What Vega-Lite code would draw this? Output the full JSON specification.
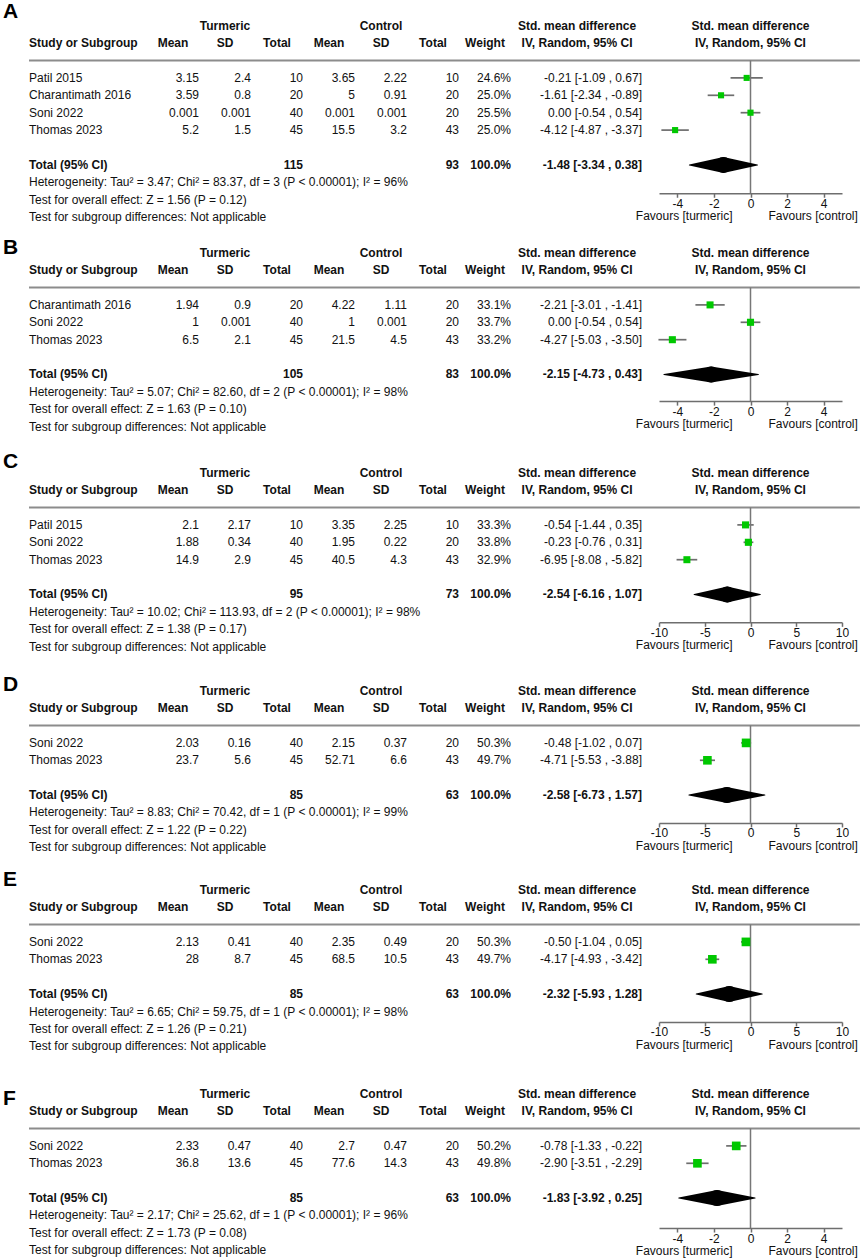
{
"$schema": "https://vega.github.io/schema/vega-lite/v6.json",
"padding": 0,
"background": "white",
"spacing": 0,
"bounds": "flush",
"config": {"view": {"stroke": null}, "font": "Liberation Sans", "text": {"font": "Liberation Sans", "fontSize": 12, "baseline": "middle", "color": "#111"}},
"datasets": {
"panels": [{"p": "A"}, {"p": "B"}, {"p": "C"}, {"p": "D"}, {"p": "E"}, {"p": "F"}],
"headers": [
{"col": "sdt", "r": 0, "text": "Turmeric"},
{"col": "sdc", "r": 0, "text": "Control"},
{"col": "mt", "r": 1, "text": "Mean"},
{"col": "sdt", "r": 1, "text": "SD"},
{"col": "nt", "r": 1, "text": "Total"},
{"col": "mc", "r": 1, "text": "Mean"},
{"col": "sdc", "r": 1, "text": "SD"},
{"col": "nc", "r": 1, "text": "Total"},
{"col": "w", "r": 1, "text": "Weight"},
{"col": "study", "r": 1, "text": "Study or Subgroup"},
{"col": "ci", "r": 0, "text": "Std. mean difference"},
{"col": "ci", "r": 1, "text": "IV, Random, 95% CI"},
{"col": "plot", "r": 0, "text": "Std. mean difference"},
{"col": "plot", "r": 1, "text": "IV, Random, 95% CI"}
],
"favours": [{"side": "turmeric", "text": "Favours [turmeric]"}, {"side": "control", "text": "Favours [control]"}],
"rows": [
{"p": "A", "kind": "study", "r": 3, "label": "Patil 2015", "mt": 3.15, "sdt": 2.4, "nt": 10, "mc": 3.65, "sdc": 2.22, "nc": 10, "w": "24.6%", "ci": "-0.21 [-1.09 , 0.67]", "est": -0.21, "lo": -1.09, "hi": 0.67, "wt": 24.6},
{"p": "A", "kind": "study", "r": 4, "label": "Charantimath 2016", "mt": 3.59, "sdt": 0.8, "nt": 20, "mc": 5, "sdc": 0.91, "nc": 20, "w": "25.0%", "ci": "-1.61 [-2.34 , -0.89]", "est": -1.61, "lo": -2.34, "hi": -0.89, "wt": 25.0},
{"p": "A", "kind": "study", "r": 5, "label": "Soni 2022", "mt": 0.001, "sdt": 0.001, "nt": 40, "mc": 0.001, "sdc": 0.001, "nc": 20, "w": "25.5%", "ci": "0.00 [-0.54 , 0.54]", "est": 0.0, "lo": -0.54, "hi": 0.54, "wt": 25.5},
{"p": "A", "kind": "study", "r": 6, "label": "Thomas 2023", "mt": 5.2, "sdt": 1.5, "nt": 45, "mc": 15.5, "sdc": 3.2, "nc": 43, "w": "25.0%", "ci": "-4.12 [-4.87 , -3.37]", "est": -4.12, "lo": -4.87, "hi": -3.37, "wt": 25.0},
{"p": "A", "kind": "total", "r": 8, "label": "Total (95% CI)", "nt": 115, "nc": 93, "w": "100.0%", "ci": "-1.48 [-3.34 , 0.38]", "est": -1.48, "lo": -3.34, "hi": 0.38},
{"p": "A", "kind": "note", "r": 9, "label": "Heterogeneity: Tau² = 3.47; Chi² = 83.37, df = 3 (P < 0.00001); I² = 96%"},
{"p": "A", "kind": "note", "r": 10, "label": "Test for overall effect: Z = 1.56 (P = 0.12)"},
{"p": "A", "kind": "note", "r": 11, "label": "Test for subgroup differences: Not applicable"},
{"p": "B", "kind": "study", "r": 3, "label": "Charantimath 2016", "mt": 1.94, "sdt": 0.9, "nt": 20, "mc": 4.22, "sdc": 1.11, "nc": 20, "w": "33.1%", "ci": "-2.21 [-3.01 , -1.41]", "est": -2.21, "lo": -3.01, "hi": -1.41, "wt": 33.1},
{"p": "B", "kind": "study", "r": 4, "label": "Soni 2022", "mt": 1, "sdt": 0.001, "nt": 40, "mc": 1, "sdc": 0.001, "nc": 20, "w": "33.7%", "ci": "0.00 [-0.54 , 0.54]", "est": 0.0, "lo": -0.54, "hi": 0.54, "wt": 33.7},
{"p": "B", "kind": "study", "r": 5, "label": "Thomas 2023", "mt": 6.5, "sdt": 2.1, "nt": 45, "mc": 21.5, "sdc": 4.5, "nc": 43, "w": "33.2%", "ci": "-4.27 [-5.03 , -3.50]", "est": -4.27, "lo": -5.03, "hi": -3.50, "wt": 33.2},
{"p": "B", "kind": "total", "r": 7, "label": "Total (95% CI)", "nt": 105, "nc": 83, "w": "100.0%", "ci": "-2.15 [-4.73 , 0.43]", "est": -2.15, "lo": -4.73, "hi": 0.43},
{"p": "B", "kind": "note", "r": 8, "label": "Heterogeneity: Tau² = 5.07; Chi² = 82.60, df = 2 (P < 0.00001); I² = 98%"},
{"p": "B", "kind": "note", "r": 9, "label": "Test for overall effect: Z = 1.63 (P = 0.10)"},
{"p": "B", "kind": "note", "r": 10, "label": "Test for subgroup differences: Not applicable"},
{"p": "C", "kind": "study", "r": 3, "label": "Patil 2015", "mt": 2.1, "sdt": 2.17, "nt": 10, "mc": 3.35, "sdc": 2.25, "nc": 10, "w": "33.3%", "ci": "-0.54 [-1.44 , 0.35]", "est": -0.54, "lo": -1.44, "hi": 0.35, "wt": 33.3},
{"p": "C", "kind": "study", "r": 4, "label": "Soni 2022", "mt": 1.88, "sdt": 0.34, "nt": 40, "mc": 1.95, "sdc": 0.22, "nc": 20, "w": "33.8%", "ci": "-0.23 [-0.76 , 0.31]", "est": -0.23, "lo": -0.76, "hi": 0.31, "wt": 33.8},
{"p": "C", "kind": "study", "r": 5, "label": "Thomas 2023", "mt": 14.9, "sdt": 2.9, "nt": 45, "mc": 40.5, "sdc": 4.3, "nc": 43, "w": "32.9%", "ci": "-6.95 [-8.08 , -5.82]", "est": -6.95, "lo": -8.08, "hi": -5.82, "wt": 32.9},
{"p": "C", "kind": "total", "r": 7, "label": "Total (95% CI)", "nt": 95, "nc": 73, "w": "100.0%", "ci": "-2.54 [-6.16 , 1.07]", "est": -2.54, "lo": -6.16, "hi": 1.07},
{"p": "C", "kind": "note", "r": 8, "label": "Heterogeneity: Tau² = 10.02; Chi² = 113.93, df = 2 (P < 0.00001); I² = 98%"},
{"p": "C", "kind": "note", "r": 9, "label": "Test for overall effect: Z = 1.38 (P = 0.17)"},
{"p": "C", "kind": "note", "r": 10, "label": "Test for subgroup differences: Not applicable"},
{"p": "D", "kind": "study", "r": 3, "label": "Soni 2022", "mt": 2.03, "sdt": 0.16, "nt": 40, "mc": 2.15, "sdc": 0.37, "nc": 20, "w": "50.3%", "ci": "-0.48 [-1.02 , 0.07]", "est": -0.48, "lo": -1.02, "hi": 0.07, "wt": 50.3},
{"p": "D", "kind": "study", "r": 4, "label": "Thomas 2023", "mt": 23.7, "sdt": 5.6, "nt": 45, "mc": 52.71, "sdc": 6.6, "nc": 43, "w": "49.7%", "ci": "-4.71 [-5.53 , -3.88]", "est": -4.71, "lo": -5.53, "hi": -3.88, "wt": 49.7},
{"p": "D", "kind": "total", "r": 6, "label": "Total (95% CI)", "nt": 85, "nc": 63, "w": "100.0%", "ci": "-2.58 [-6.73 , 1.57]", "est": -2.58, "lo": -6.73, "hi": 1.57},
{"p": "D", "kind": "note", "r": 7, "label": "Heterogeneity: Tau² = 8.83; Chi² = 70.42, df = 1 (P < 0.00001); I² = 99%"},
{"p": "D", "kind": "note", "r": 8, "label": "Test for overall effect: Z = 1.22 (P = 0.22)"},
{"p": "D", "kind": "note", "r": 9, "label": "Test for subgroup differences: Not applicable"},
{"p": "E", "kind": "study", "r": 3, "label": "Soni 2022", "mt": 2.13, "sdt": 0.41, "nt": 40, "mc": 2.35, "sdc": 0.49, "nc": 20, "w": "50.3%", "ci": "-0.50 [-1.04 , 0.05]", "est": -0.50, "lo": -1.04, "hi": 0.05, "wt": 50.3},
{"p": "E", "kind": "study", "r": 4, "label": "Thomas 2023", "mt": 28, "sdt": 8.7, "nt": 45, "mc": 68.5, "sdc": 10.5, "nc": 43, "w": "49.7%", "ci": "-4.17 [-4.93 , -3.42]", "est": -4.17, "lo": -4.93, "hi": -3.42, "wt": 49.7},
{"p": "E", "kind": "total", "r": 6, "label": "Total (95% CI)", "nt": 85, "nc": 63, "w": "100.0%", "ci": "-2.32 [-5.93 , 1.28]", "est": -2.32, "lo": -5.93, "hi": 1.28},
{"p": "E", "kind": "note", "r": 7, "label": "Heterogeneity: Tau² = 6.65; Chi² = 59.75, df = 1 (P < 0.00001); I² = 98%"},
{"p": "E", "kind": "note", "r": 8, "label": "Test for overall effect: Z = 1.26 (P = 0.21)"},
{"p": "E", "kind": "note", "r": 9, "label": "Test for subgroup differences: Not applicable"},
{"p": "F", "kind": "study", "r": 3, "label": "Soni 2022", "mt": 2.33, "sdt": 0.47, "nt": 40, "mc": 2.7, "sdc": 0.47, "nc": 20, "w": "50.2%", "ci": "-0.78 [-1.33 , -0.22]", "est": -0.78, "lo": -1.33, "hi": -0.22, "wt": 50.2},
{"p": "F", "kind": "study", "r": 4, "label": "Thomas 2023", "mt": 36.8, "sdt": 13.6, "nt": 45, "mc": 77.6, "sdc": 14.3, "nc": 43, "w": "49.8%", "ci": "-2.90 [-3.51 , -2.29]", "est": -2.90, "lo": -3.51, "hi": -2.29, "wt": 49.8},
{"p": "F", "kind": "total", "r": 6, "label": "Total (95% CI)", "nt": 85, "nc": 63, "w": "100.0%", "ci": "-1.83 [-3.92 , 0.25]", "est": -1.83, "lo": -3.92, "hi": 0.25},
{"p": "F", "kind": "note", "r": 7, "label": "Heterogeneity: Tau² = 2.17; Chi² = 25.62, df = 1 (P < 0.00001); I² = 96%"},
{"p": "F", "kind": "note", "r": 8, "label": "Test for overall effect: Z = 1.73 (P = 0.08)"},
{"p": "F", "kind": "note", "r": 9, "label": "Test for subgroup differences: Not applicable"}
]
},
"vconcat": [
{
"width": 865, "height": 227,
"data": {"name": "rows"},
"transform": [{"filter": "datum.p == 'A'"}],
"resolve": {"scale": {"x": "independent"}, "axis": {"x": "independent"}},
"layer": [
{"layer": [
{"data": {"name": "panels"}, "transform": [{"filter": "datum.p == 'A'"}], "mark": {"type": "text", "align": "left", "fontSize": 21, "fontWeight": "bold", "color": "#000"}, "encoding": {"x": {"datum": "study", "type": "nominal", "bandPosition": 0.23, "scale": {"type": "band", "domain": ["study","s1","s2","mt","sdt","nt","mc","sdc","nc","w","ci1","ci2","ci3","f1","f2","f3","f4"], "range": [-9, 875], "paddingInner": 0, "paddingOuter": 0}, "axis": null}, "y": {"datum": -0.8, "type": "quantitative", "scale": {"domain": [-1.477, 11.569], "reverse": true, "nice": false, "zero": false}, "axis": null}, "text": {"field": "p", "type": "nominal"}}},
{"data": {"name": "headers"}, "transform": [{"filter": "indexof(['mt','sdt','nt','mc','sdc','nc','w'], datum.col) >= 0"}], "mark": {"type": "text", "align": "center", "fontWeight": "bold"}, "encoding": {"x": {"field": "col", "type": "nominal", "bandPosition": 0.5, "axis": null}, "y": {"field": "r", "type": "quantitative", "axis": null}, "text": {"field": "text", "type": "nominal"}}},
{"data": {"name": "headers"}, "transform": [{"filter": "datum.col == 'ci'"}], "mark": {"type": "text", "align": "center", "fontWeight": "bold"}, "encoding": {"x": {"datum": "ci2", "type": "nominal", "bandPosition": 0.27, "axis": null}, "y": {"field": "r", "type": "quantitative", "axis": null}, "text": {"field": "text", "type": "nominal"}}},
{"data": {"name": "headers"}, "transform": [{"filter": "datum.col == 'study'"}], "mark": {"type": "text", "align": "left", "fontWeight": "bold"}, "encoding": {"x": {"datum": "study", "type": "nominal", "bandPosition": 0.731, "axis": null}, "y": {"field": "r", "type": "quantitative", "axis": null}, "text": {"field": "text", "type": "nominal"}}},
{"mark": {"type": "text", "align": "left", "fontWeight": {"expr": "datum.kind == 'total' ? 'bold' : 'normal'"}}, "encoding": {"x": {"datum": "study", "type": "nominal", "bandPosition": 0.731, "axis": null}, "y": {"field": "r", "type": "quantitative", "axis": null}, "text": {"field": "label", "type": "nominal"}}},
{"transform": [{"filter": "datum.kind != 'note'"}, {"fold": ["mt","sdt","nt","mc","sdc","nc","w"]}, {"filter": "datum.value != null"}], "mark": {"type": "text", "align": "right", "fontWeight": {"expr": "datum.kind == 'total' ? 'bold' : 'normal'"}}, "encoding": {"x": {"field": "key", "type": "nominal", "bandPosition": 1, "axis": null}, "y": {"field": "r", "type": "quantitative", "axis": null}, "text": {"field": "value", "type": "nominal"}}},
{"transform": [{"filter": "datum.kind != 'note'"}], "mark": {"type": "text", "align": "right", "fontWeight": {"expr": "datum.kind == 'total' ? 'bold' : 'normal'"}}, "encoding": {"x": {"datum": "ci3", "type": "nominal", "bandPosition": 0.52, "axis": null}, "y": {"field": "r", "type": "quantitative", "axis": null}, "text": {"field": "ci", "type": "nominal"}}},
{"data": {"name": "panels"}, "transform": [{"filter": "datum.p == 'A'"}], "mark": {"type": "rule", "color": "#8c8c8c", "strokeWidth": 2}, "encoding": {"x": {"datum": "study", "type": "nominal", "bandPosition": 0.731, "axis": null}, "x2": {"datum": "f4", "bandPosition": 0.71}, "y": {"datum": 2, "type": "quantitative", "axis": null}}}
]},
{"resolve": {"scale": {"size": "independent"}}, "layer": [
{"transform": [{"filter": "datum.kind == 'study'"}], "mark": {"type": "rule", "color": "#6e6e6e", "strokeWidth": 1.7}, "encoding": {"x": {"field": "lo", "type": "quantitative", "scale": {"domain": [-5, 5], "range": [659, 842], "nice": false, "zero": false}, "axis": {"values": [-4, -2, 0, 2, 4], "title": null, "offset": -33.74, "grid": false, "tickSize": 4, "labelPadding": 1, "domainColor": "#6e6e6e", "domainWidth": 1.5, "tickColor": "#6e6e6e", "tickWidth": 1.5, "labelFont": "Liberation Sans", "labelFontSize": 12, "labelColor": "#111", "labelExpr": "'' + datum.value", "labelOverlap": false, "labelFlush": false}}, "x2": {"field": "hi"}, "y": {"field": "r", "type": "quantitative", "scale": {"domain": [-1.477, 11.569], "reverse": true, "nice": false, "zero": false}, "axis": null}}},
{"data": {"name": "panels"}, "transform": [{"filter": "datum.p == 'A'"}], "mark": {"type": "rule", "color": "#777", "strokeWidth": 1.5}, "encoding": {"x": {"datum": 0, "type": "quantitative"}, "y": {"datum": 2, "type": "quantitative", "axis": null}, "y2": {"datum": 9.63}}},
{"transform": [{"filter": "datum.kind == 'study'"}], "mark": {"type": "point", "shape": "square", "filled": true, "color": "#00c800", "opacity": 1}, "encoding": {"x": {"field": "est", "type": "quantitative"}, "y": {"field": "r", "type": "quantitative", "axis": null}, "size": {"field": "wt", "type": "quantitative", "scale": {"domain": [0, 100], "range": [0, 150]}, "legend": null}}},
{"transform": [{"filter": "datum.kind == 'total'"}, {"fold": ["lo", "est"]}], "mark": {"type": "trail", "color": "#000"}, "encoding": {"x": {"field": "value", "type": "quantitative"}, "y": {"field": "r", "type": "quantitative", "axis": null}, "size": {"field": "key", "type": "ordinal", "scale": {"type": "point", "domain": ["lo", "est"], "range": [0, 16], "padding": 0}, "legend": null}, "order": {"field": "value", "type": "quantitative"}}},
{"transform": [{"filter": "datum.kind == 'total'"}, {"fold": ["hi", "est"]}], "mark": {"type": "trail", "color": "#000"}, "encoding": {"x": {"field": "value", "type": "quantitative"}, "y": {"field": "r", "type": "quantitative", "axis": null}, "size": {"field": "key", "type": "ordinal", "scale": {"type": "point", "domain": ["hi", "est"], "range": [0, 16], "padding": 0}, "legend": null}, "order": {"field": "value", "type": "quantitative"}}},
{"data": {"name": "headers"}, "transform": [{"filter": "datum.col == 'plot'"}], "mark": {"type": "text", "align": "center", "fontWeight": "bold"}, "encoding": {"x": {"datum": 0, "type": "quantitative"}, "y": {"field": "r", "type": "quantitative", "axis": null}, "text": {"field": "text", "type": "nominal"}}},
{"data": {"name": "favours"}, "mark": {"type": "text", "align": {"expr": "datum.side == 'turmeric' ? 'right' : 'left'"}, "dx": {"expr": "datum.side == 'turmeric' ? -18 : 18"}}, "encoding": {"x": {"datum": 0, "type": "quantitative"}, "y": {"datum": 10.95, "type": "quantitative", "axis": null}, "text": {"field": "text", "type": "nominal"}}}
]}
]
},
{
"width": 865, "height": 220,
"data": {"name": "rows"},
"transform": [{"filter": "datum.p == 'B'"}],
"resolve": {"scale": {"x": "independent"}, "axis": {"x": "independent"}},
"layer": [
{"layer": [
{"data": {"name": "panels"}, "transform": [{"filter": "datum.p == 'B'"}], "mark": {"type": "text", "align": "left", "fontSize": 21, "fontWeight": "bold", "color": "#000"}, "encoding": {"x": {"datum": "study", "type": "nominal", "bandPosition": 0.23, "scale": {"type": "band", "domain": ["study","s1","s2","mt","sdt","nt","mc","sdc","nc","w","ci1","ci2","ci3","f1","f2","f3","f4"], "range": [-9, 875], "paddingInner": 0, "paddingOuter": 0}, "axis": null}, "y": {"datum": -0.27, "type": "quantitative", "scale": {"domain": [-1.477, 11.167], "reverse": true, "nice": false, "zero": false}, "axis": null}, "text": {"field": "p", "type": "nominal"}}},
{"data": {"name": "headers"}, "transform": [{"filter": "indexof(['mt','sdt','nt','mc','sdc','nc','w'], datum.col) >= 0"}], "mark": {"type": "text", "align": "center", "fontWeight": "bold"}, "encoding": {"x": {"field": "col", "type": "nominal", "bandPosition": 0.5, "axis": null}, "y": {"field": "r", "type": "quantitative", "axis": null}, "text": {"field": "text", "type": "nominal"}}},
{"data": {"name": "headers"}, "transform": [{"filter": "datum.col == 'ci'"}], "mark": {"type": "text", "align": "center", "fontWeight": "bold"}, "encoding": {"x": {"datum": "ci2", "type": "nominal", "bandPosition": 0.27, "axis": null}, "y": {"field": "r", "type": "quantitative", "axis": null}, "text": {"field": "text", "type": "nominal"}}},
{"data": {"name": "headers"}, "transform": [{"filter": "datum.col == 'study'"}], "mark": {"type": "text", "align": "left", "fontWeight": "bold"}, "encoding": {"x": {"datum": "study", "type": "nominal", "bandPosition": 0.731, "axis": null}, "y": {"field": "r", "type": "quantitative", "axis": null}, "text": {"field": "text", "type": "nominal"}}},
{"mark": {"type": "text", "align": "left", "fontWeight": {"expr": "datum.kind == 'total' ? 'bold' : 'normal'"}}, "encoding": {"x": {"datum": "study", "type": "nominal", "bandPosition": 0.731, "axis": null}, "y": {"field": "r", "type": "quantitative", "axis": null}, "text": {"field": "label", "type": "nominal"}}},
{"transform": [{"filter": "datum.kind != 'note'"}, {"fold": ["mt","sdt","nt","mc","sdc","nc","w"]}, {"filter": "datum.value != null"}], "mark": {"type": "text", "align": "right", "fontWeight": {"expr": "datum.kind == 'total' ? 'bold' : 'normal'"}}, "encoding": {"x": {"field": "key", "type": "nominal", "bandPosition": 1, "axis": null}, "y": {"field": "r", "type": "quantitative", "axis": null}, "text": {"field": "value", "type": "nominal"}}},
{"transform": [{"filter": "datum.kind != 'note'"}], "mark": {"type": "text", "align": "right", "fontWeight": {"expr": "datum.kind == 'total' ? 'bold' : 'normal'"}}, "encoding": {"x": {"datum": "ci3", "type": "nominal", "bandPosition": 0.52, "axis": null}, "y": {"field": "r", "type": "quantitative", "axis": null}, "text": {"field": "ci", "type": "nominal"}}},
{"data": {"name": "panels"}, "transform": [{"filter": "datum.p == 'B'"}], "mark": {"type": "rule", "color": "#8c8c8c", "strokeWidth": 2}, "encoding": {"x": {"datum": "study", "type": "nominal", "bandPosition": 0.731, "axis": null}, "x2": {"datum": "f4", "bandPosition": 0.71}, "y": {"datum": 2, "type": "quantitative", "axis": null}}}
]},
{"resolve": {"scale": {"size": "independent"}}, "layer": [
{"transform": [{"filter": "datum.kind == 'study'"}], "mark": {"type": "rule", "color": "#6e6e6e", "strokeWidth": 1.7}, "encoding": {"x": {"field": "lo", "type": "quantitative", "scale": {"domain": [-5, 5], "range": [659, 842], "nice": false, "zero": false}, "axis": {"values": [-4, -2, 0, 2, 4], "title": null, "offset": -45.88, "grid": false, "tickSize": 4, "labelPadding": 1, "domainColor": "#6e6e6e", "domainWidth": 1.5, "tickColor": "#6e6e6e", "tickWidth": 1.5, "labelFont": "Liberation Sans", "labelFontSize": 12, "labelColor": "#111", "labelExpr": "'' + datum.value", "labelOverlap": false, "labelFlush": false}}, "x2": {"field": "hi"}, "y": {"field": "r", "type": "quantitative", "scale": {"domain": [-1.477, 11.167], "reverse": true, "nice": false, "zero": false}, "axis": null}}},
{"data": {"name": "panels"}, "transform": [{"filter": "datum.p == 'B'"}], "mark": {"type": "rule", "color": "#777", "strokeWidth": 1.5}, "encoding": {"x": {"datum": 0, "type": "quantitative"}, "y": {"datum": 2, "type": "quantitative", "axis": null}, "y2": {"datum": 8.53}}},
{"transform": [{"filter": "datum.kind == 'study'"}], "mark": {"type": "point", "shape": "square", "filled": true, "color": "#00c800", "opacity": 1}, "encoding": {"x": {"field": "est", "type": "quantitative"}, "y": {"field": "r", "type": "quantitative", "axis": null}, "size": {"field": "wt", "type": "quantitative", "scale": {"domain": [0, 100], "range": [0, 150]}, "legend": null}}},
{"transform": [{"filter": "datum.kind == 'total'"}, {"fold": ["lo", "est"]}], "mark": {"type": "trail", "color": "#000"}, "encoding": {"x": {"field": "value", "type": "quantitative"}, "y": {"field": "r", "type": "quantitative", "axis": null}, "size": {"field": "key", "type": "ordinal", "scale": {"type": "point", "domain": ["lo", "est"], "range": [0, 16], "padding": 0}, "legend": null}, "order": {"field": "value", "type": "quantitative"}}},
{"transform": [{"filter": "datum.kind == 'total'"}, {"fold": ["hi", "est"]}], "mark": {"type": "trail", "color": "#000"}, "encoding": {"x": {"field": "value", "type": "quantitative"}, "y": {"field": "r", "type": "quantitative", "axis": null}, "size": {"field": "key", "type": "ordinal", "scale": {"type": "point", "domain": ["hi", "est"], "range": [0, 16], "padding": 0}, "legend": null}, "order": {"field": "value", "type": "quantitative"}}},
{"data": {"name": "headers"}, "transform": [{"filter": "datum.col == 'plot'"}], "mark": {"type": "text", "align": "center", "fontWeight": "bold"}, "encoding": {"x": {"datum": 0, "type": "quantitative"}, "y": {"field": "r", "type": "quantitative", "axis": null}, "text": {"field": "text", "type": "nominal"}}},
{"data": {"name": "favours"}, "mark": {"type": "text", "align": {"expr": "datum.side == 'turmeric' ? 'right' : 'left'"}, "dx": {"expr": "datum.side == 'turmeric' ? -18 : 18"}}, "encoding": {"x": {"datum": 0, "type": "quantitative"}, "y": {"datum": 9.85, "type": "quantitative", "axis": null}, "text": {"field": "text", "type": "nominal"}}}
]}
]
},
{
"width": 865, "height": 218,
"data": {"name": "rows"},
"transform": [{"filter": "datum.p == 'C'"}],
"resolve": {"scale": {"x": "independent"}, "axis": {"x": "independent"}},
"layer": [
{"layer": [
{"data": {"name": "panels"}, "transform": [{"filter": "datum.p == 'C'"}], "mark": {"type": "text", "align": "left", "fontSize": 21, "fontWeight": "bold", "color": "#000"}, "encoding": {"x": {"datum": "study", "type": "nominal", "bandPosition": 0.23, "scale": {"type": "band", "domain": ["study","s1","s2","mt","sdt","nt","mc","sdc","nc","w","ci1","ci2","ci3","f1","f2","f3","f4"], "range": [-9, 875], "paddingInner": 0, "paddingOuter": 0}, "axis": null}, "y": {"datum": -0.63, "type": "quantitative", "scale": {"domain": [-1.477, 11.052], "reverse": true, "nice": false, "zero": false}, "axis": null}, "text": {"field": "p", "type": "nominal"}}},
{"data": {"name": "headers"}, "transform": [{"filter": "indexof(['mt','sdt','nt','mc','sdc','nc','w'], datum.col) >= 0"}], "mark": {"type": "text", "align": "center", "fontWeight": "bold"}, "encoding": {"x": {"field": "col", "type": "nominal", "bandPosition": 0.5, "axis": null}, "y": {"field": "r", "type": "quantitative", "axis": null}, "text": {"field": "text", "type": "nominal"}}},
{"data": {"name": "headers"}, "transform": [{"filter": "datum.col == 'ci'"}], "mark": {"type": "text", "align": "center", "fontWeight": "bold"}, "encoding": {"x": {"datum": "ci2", "type": "nominal", "bandPosition": 0.27, "axis": null}, "y": {"field": "r", "type": "quantitative", "axis": null}, "text": {"field": "text", "type": "nominal"}}},
{"data": {"name": "headers"}, "transform": [{"filter": "datum.col == 'study'"}], "mark": {"type": "text", "align": "left", "fontWeight": "bold"}, "encoding": {"x": {"datum": "study", "type": "nominal", "bandPosition": 0.731, "axis": null}, "y": {"field": "r", "type": "quantitative", "axis": null}, "text": {"field": "text", "type": "nominal"}}},
{"mark": {"type": "text", "align": "left", "fontWeight": {"expr": "datum.kind == 'total' ? 'bold' : 'normal'"}}, "encoding": {"x": {"datum": "study", "type": "nominal", "bandPosition": 0.731, "axis": null}, "y": {"field": "r", "type": "quantitative", "axis": null}, "text": {"field": "label", "type": "nominal"}}},
{"transform": [{"filter": "datum.kind != 'note'"}, {"fold": ["mt","sdt","nt","mc","sdc","nc","w"]}, {"filter": "datum.value != null"}], "mark": {"type": "text", "align": "right", "fontWeight": {"expr": "datum.kind == 'total' ? 'bold' : 'normal'"}}, "encoding": {"x": {"field": "key", "type": "nominal", "bandPosition": 1, "axis": null}, "y": {"field": "r", "type": "quantitative", "axis": null}, "text": {"field": "value", "type": "nominal"}}},
{"transform": [{"filter": "datum.kind != 'note'"}], "mark": {"type": "text", "align": "right", "fontWeight": {"expr": "datum.kind == 'total' ? 'bold' : 'normal'"}}, "encoding": {"x": {"datum": "ci3", "type": "nominal", "bandPosition": 0.52, "axis": null}, "y": {"field": "r", "type": "quantitative", "axis": null}, "text": {"field": "ci", "type": "nominal"}}},
{"data": {"name": "panels"}, "transform": [{"filter": "datum.p == 'C'"}], "mark": {"type": "rule", "color": "#8c8c8c", "strokeWidth": 2}, "encoding": {"x": {"datum": "study", "type": "nominal", "bandPosition": 0.731, "axis": null}, "x2": {"datum": "f4", "bandPosition": 0.71}, "y": {"datum": 2, "type": "quantitative", "axis": null}}}
]},
{"resolve": {"scale": {"size": "independent"}}, "layer": [
{"transform": [{"filter": "datum.kind == 'study'"}], "mark": {"type": "rule", "color": "#6e6e6e", "strokeWidth": 1.7}, "encoding": {"x": {"field": "lo", "type": "quantitative", "scale": {"domain": [-10, 10], "range": [659, 842], "nice": false, "zero": false}, "axis": {"values": [-10, -5, 0, 5, 10], "title": null, "offset": -42.66, "grid": false, "tickSize": 4, "labelPadding": 1, "domainColor": "#6e6e6e", "domainWidth": 1.5, "tickColor": "#6e6e6e", "tickWidth": 1.5, "labelFont": "Liberation Sans", "labelFontSize": 12, "labelColor": "#111", "labelExpr": "'' + datum.value", "labelOverlap": false, "labelFlush": false}}, "x2": {"field": "hi"}, "y": {"field": "r", "type": "quantitative", "scale": {"domain": [-1.477, 11.052], "reverse": true, "nice": false, "zero": false}, "axis": null}}},
{"data": {"name": "panels"}, "transform": [{"filter": "datum.p == 'C'"}], "mark": {"type": "rule", "color": "#777", "strokeWidth": 1.5}, "encoding": {"x": {"datum": 0, "type": "quantitative"}, "y": {"datum": 2, "type": "quantitative", "axis": null}, "y2": {"datum": 8.6}}},
{"transform": [{"filter": "datum.kind == 'study'"}], "mark": {"type": "point", "shape": "square", "filled": true, "color": "#00c800", "opacity": 1}, "encoding": {"x": {"field": "est", "type": "quantitative"}, "y": {"field": "r", "type": "quantitative", "axis": null}, "size": {"field": "wt", "type": "quantitative", "scale": {"domain": [0, 100], "range": [0, 150]}, "legend": null}}},
{"transform": [{"filter": "datum.kind == 'total'"}, {"fold": ["lo", "est"]}], "mark": {"type": "trail", "color": "#000"}, "encoding": {"x": {"field": "value", "type": "quantitative"}, "y": {"field": "r", "type": "quantitative", "axis": null}, "size": {"field": "key", "type": "ordinal", "scale": {"type": "point", "domain": ["lo", "est"], "range": [0, 16], "padding": 0}, "legend": null}, "order": {"field": "value", "type": "quantitative"}}},
{"transform": [{"filter": "datum.kind == 'total'"}, {"fold": ["hi", "est"]}], "mark": {"type": "trail", "color": "#000"}, "encoding": {"x": {"field": "value", "type": "quantitative"}, "y": {"field": "r", "type": "quantitative", "axis": null}, "size": {"field": "key", "type": "ordinal", "scale": {"type": "point", "domain": ["hi", "est"], "range": [0, 16], "padding": 0}, "legend": null}, "order": {"field": "value", "type": "quantitative"}}},
{"data": {"name": "headers"}, "transform": [{"filter": "datum.col == 'plot'"}], "mark": {"type": "text", "align": "center", "fontWeight": "bold"}, "encoding": {"x": {"datum": 0, "type": "quantitative"}, "y": {"field": "r", "type": "quantitative", "axis": null}, "text": {"field": "text", "type": "nominal"}}},
{"data": {"name": "favours"}, "mark": {"type": "text", "align": {"expr": "datum.side == 'turmeric' ? 'right' : 'left'"}, "dx": {"expr": "datum.side == 'turmeric' ? -18 : 18"}}, "encoding": {"x": {"datum": 0, "type": "quantitative"}, "y": {"datum": 9.92, "type": "quantitative", "axis": null}, "text": {"field": "text", "type": "nominal"}}}
]}
]
},
{
"width": 865, "height": 199,
"data": {"name": "rows"},
"transform": [{"filter": "datum.p == 'D'"}],
"resolve": {"scale": {"x": "independent"}, "axis": {"x": "independent"}},
"layer": [
{"layer": [
{"data": {"name": "panels"}, "transform": [{"filter": "datum.p == 'D'"}], "mark": {"type": "text", "align": "left", "fontSize": 21, "fontWeight": "bold", "color": "#000"}, "encoding": {"x": {"datum": "study", "type": "nominal", "bandPosition": 0.23, "scale": {"type": "band", "domain": ["study","s1","s2","mt","sdt","nt","mc","sdc","nc","w","ci1","ci2","ci3","f1","f2","f3","f4"], "range": [-9, 875], "paddingInner": 0, "paddingOuter": 0}, "axis": null}, "y": {"datum": -0.3, "type": "quantitative", "scale": {"domain": [-1.477, 9.96], "reverse": true, "nice": false, "zero": false}, "axis": null}, "text": {"field": "p", "type": "nominal"}}},
{"data": {"name": "headers"}, "transform": [{"filter": "indexof(['mt','sdt','nt','mc','sdc','nc','w'], datum.col) >= 0"}], "mark": {"type": "text", "align": "center", "fontWeight": "bold"}, "encoding": {"x": {"field": "col", "type": "nominal", "bandPosition": 0.5, "axis": null}, "y": {"field": "r", "type": "quantitative", "axis": null}, "text": {"field": "text", "type": "nominal"}}},
{"data": {"name": "headers"}, "transform": [{"filter": "datum.col == 'ci'"}], "mark": {"type": "text", "align": "center", "fontWeight": "bold"}, "encoding": {"x": {"datum": "ci2", "type": "nominal", "bandPosition": 0.27, "axis": null}, "y": {"field": "r", "type": "quantitative", "axis": null}, "text": {"field": "text", "type": "nominal"}}},
{"data": {"name": "headers"}, "transform": [{"filter": "datum.col == 'study'"}], "mark": {"type": "text", "align": "left", "fontWeight": "bold"}, "encoding": {"x": {"datum": "study", "type": "nominal", "bandPosition": 0.731, "axis": null}, "y": {"field": "r", "type": "quantitative", "axis": null}, "text": {"field": "text", "type": "nominal"}}},
{"mark": {"type": "text", "align": "left", "fontWeight": {"expr": "datum.kind == 'total' ? 'bold' : 'normal'"}}, "encoding": {"x": {"datum": "study", "type": "nominal", "bandPosition": 0.731, "axis": null}, "y": {"field": "r", "type": "quantitative", "axis": null}, "text": {"field": "label", "type": "nominal"}}},
{"transform": [{"filter": "datum.kind != 'note'"}, {"fold": ["mt","sdt","nt","mc","sdc","nc","w"]}, {"filter": "datum.value != null"}], "mark": {"type": "text", "align": "right", "fontWeight": {"expr": "datum.kind == 'total' ? 'bold' : 'normal'"}}, "encoding": {"x": {"field": "key", "type": "nominal", "bandPosition": 1, "axis": null}, "y": {"field": "r", "type": "quantitative", "axis": null}, "text": {"field": "value", "type": "nominal"}}},
{"transform": [{"filter": "datum.kind != 'note'"}], "mark": {"type": "text", "align": "right", "fontWeight": {"expr": "datum.kind == 'total' ? 'bold' : 'normal'"}}, "encoding": {"x": {"datum": "ci3", "type": "nominal", "bandPosition": 0.52, "axis": null}, "y": {"field": "r", "type": "quantitative", "axis": null}, "text": {"field": "ci", "type": "nominal"}}},
{"data": {"name": "panels"}, "transform": [{"filter": "datum.p == 'D'"}], "mark": {"type": "rule", "color": "#8c8c8c", "strokeWidth": 2}, "encoding": {"x": {"datum": "study", "type": "nominal", "bandPosition": 0.731, "axis": null}, "x2": {"datum": "f4", "bandPosition": 0.71}, "y": {"datum": 2, "type": "quantitative", "axis": null}}}
]},
{"resolve": {"scale": {"size": "independent"}}, "layer": [
{"transform": [{"filter": "datum.kind == 'study'"}], "mark": {"type": "rule", "color": "#6e6e6e", "strokeWidth": 1.7}, "encoding": {"x": {"field": "lo", "type": "quantitative", "scale": {"domain": [-10, 10], "range": [659, 842], "nice": false, "zero": false}, "axis": {"values": [-10, -5, 0, 5, 10], "title": null, "offset": -41.06, "grid": false, "tickSize": 4, "labelPadding": 1, "domainColor": "#6e6e6e", "domainWidth": 1.5, "tickColor": "#6e6e6e", "tickWidth": 1.5, "labelFont": "Liberation Sans", "labelFontSize": 12, "labelColor": "#111", "labelExpr": "'' + datum.value", "labelOverlap": false, "labelFlush": false}}, "x2": {"field": "hi"}, "y": {"field": "r", "type": "quantitative", "scale": {"domain": [-1.477, 9.96], "reverse": true, "nice": false, "zero": false}, "axis": null}}},
{"data": {"name": "panels"}, "transform": [{"filter": "datum.p == 'D'"}], "mark": {"type": "rule", "color": "#777", "strokeWidth": 1.5}, "encoding": {"x": {"datum": 0, "type": "quantitative"}, "y": {"datum": 2, "type": "quantitative", "axis": null}, "y2": {"datum": 7.6}}},
{"transform": [{"filter": "datum.kind == 'study'"}], "mark": {"type": "point", "shape": "square", "filled": true, "color": "#00c800", "opacity": 1}, "encoding": {"x": {"field": "est", "type": "quantitative"}, "y": {"field": "r", "type": "quantitative", "axis": null}, "size": {"field": "wt", "type": "quantitative", "scale": {"domain": [0, 100], "range": [0, 150]}, "legend": null}}},
{"transform": [{"filter": "datum.kind == 'total'"}, {"fold": ["lo", "est"]}], "mark": {"type": "trail", "color": "#000"}, "encoding": {"x": {"field": "value", "type": "quantitative"}, "y": {"field": "r", "type": "quantitative", "axis": null}, "size": {"field": "key", "type": "ordinal", "scale": {"type": "point", "domain": ["lo", "est"], "range": [0, 16], "padding": 0}, "legend": null}, "order": {"field": "value", "type": "quantitative"}}},
{"transform": [{"filter": "datum.kind == 'total'"}, {"fold": ["hi", "est"]}], "mark": {"type": "trail", "color": "#000"}, "encoding": {"x": {"field": "value", "type": "quantitative"}, "y": {"field": "r", "type": "quantitative", "axis": null}, "size": {"field": "key", "type": "ordinal", "scale": {"type": "point", "domain": ["hi", "est"], "range": [0, 16], "padding": 0}, "legend": null}, "order": {"field": "value", "type": "quantitative"}}},
{"data": {"name": "headers"}, "transform": [{"filter": "datum.col == 'plot'"}], "mark": {"type": "text", "align": "center", "fontWeight": "bold"}, "encoding": {"x": {"datum": 0, "type": "quantitative"}, "y": {"field": "r", "type": "quantitative", "axis": null}, "text": {"field": "text", "type": "nominal"}}},
{"data": {"name": "favours"}, "mark": {"type": "text", "align": {"expr": "datum.side == 'turmeric' ? 'right' : 'left'"}, "dx": {"expr": "datum.side == 'turmeric' ? -18 : 18"}}, "encoding": {"x": {"datum": 0, "type": "quantitative"}, "y": {"datum": 8.92, "type": "quantitative", "axis": null}, "text": {"field": "text", "type": "nominal"}}}
]}
]
},
{
"width": 865, "height": 204,
"data": {"name": "rows"},
"transform": [{"filter": "datum.p == 'E'"}],
"resolve": {"scale": {"x": "independent"}, "axis": {"x": "independent"}},
"layer": [
{"layer": [
{"data": {"name": "panels"}, "transform": [{"filter": "datum.p == 'E'"}], "mark": {"type": "text", "align": "left", "fontSize": 21, "fontWeight": "bold", "color": "#000"}, "encoding": {"x": {"datum": "study", "type": "nominal", "bandPosition": 0.23, "scale": {"type": "band", "domain": ["study","s1","s2","mt","sdt","nt","mc","sdc","nc","w","ci1","ci2","ci3","f1","f2","f3","f4"], "range": [-9, 875], "paddingInner": 0, "paddingOuter": 0}, "axis": null}, "y": {"datum": -0.56, "type": "quantitative", "scale": {"domain": [-1.477, 10.247], "reverse": true, "nice": false, "zero": false}, "axis": null}, "text": {"field": "p", "type": "nominal"}}},
{"data": {"name": "headers"}, "transform": [{"filter": "indexof(['mt','sdt','nt','mc','sdc','nc','w'], datum.col) >= 0"}], "mark": {"type": "text", "align": "center", "fontWeight": "bold"}, "encoding": {"x": {"field": "col", "type": "nominal", "bandPosition": 0.5, "axis": null}, "y": {"field": "r", "type": "quantitative", "axis": null}, "text": {"field": "text", "type": "nominal"}}},
{"data": {"name": "headers"}, "transform": [{"filter": "datum.col == 'ci'"}], "mark": {"type": "text", "align": "center", "fontWeight": "bold"}, "encoding": {"x": {"datum": "ci2", "type": "nominal", "bandPosition": 0.27, "axis": null}, "y": {"field": "r", "type": "quantitative", "axis": null}, "text": {"field": "text", "type": "nominal"}}},
{"data": {"name": "headers"}, "transform": [{"filter": "datum.col == 'study'"}], "mark": {"type": "text", "align": "left", "fontWeight": "bold"}, "encoding": {"x": {"datum": "study", "type": "nominal", "bandPosition": 0.731, "axis": null}, "y": {"field": "r", "type": "quantitative", "axis": null}, "text": {"field": "text", "type": "nominal"}}},
{"mark": {"type": "text", "align": "left", "fontWeight": {"expr": "datum.kind == 'total' ? 'bold' : 'normal'"}}, "encoding": {"x": {"datum": "study", "type": "nominal", "bandPosition": 0.731, "axis": null}, "y": {"field": "r", "type": "quantitative", "axis": null}, "text": {"field": "label", "type": "nominal"}}},
{"transform": [{"filter": "datum.kind != 'note'"}, {"fold": ["mt","sdt","nt","mc","sdc","nc","w"]}, {"filter": "datum.value != null"}], "mark": {"type": "text", "align": "right", "fontWeight": {"expr": "datum.kind == 'total' ? 'bold' : 'normal'"}}, "encoding": {"x": {"field": "key", "type": "nominal", "bandPosition": 1, "axis": null}, "y": {"field": "r", "type": "quantitative", "axis": null}, "text": {"field": "value", "type": "nominal"}}},
{"transform": [{"filter": "datum.kind != 'note'"}], "mark": {"type": "text", "align": "right", "fontWeight": {"expr": "datum.kind == 'total' ? 'bold' : 'normal'"}}, "encoding": {"x": {"datum": "ci3", "type": "nominal", "bandPosition": 0.52, "axis": null}, "y": {"field": "r", "type": "quantitative", "axis": null}, "text": {"field": "ci", "type": "nominal"}}},
{"data": {"name": "panels"}, "transform": [{"filter": "datum.p == 'E'"}], "mark": {"type": "rule", "color": "#8c8c8c", "strokeWidth": 2}, "encoding": {"x": {"datum": "study", "type": "nominal", "bandPosition": 0.731, "axis": null}, "x2": {"datum": "f4", "bandPosition": 0.71}, "y": {"datum": 2, "type": "quantitative", "axis": null}}}
]},
{"resolve": {"scale": {"size": "independent"}}, "layer": [
{"transform": [{"filter": "datum.kind == 'study'"}], "mark": {"type": "rule", "color": "#6e6e6e", "strokeWidth": 1.7}, "encoding": {"x": {"field": "lo", "type": "quantitative", "scale": {"domain": [-10, 10], "range": [659, 842], "nice": false, "zero": false}, "axis": {"values": [-10, -5, 0, 5, 10], "title": null, "offset": -46.06, "grid": false, "tickSize": 4, "labelPadding": 1, "domainColor": "#6e6e6e", "domainWidth": 1.5, "tickColor": "#6e6e6e", "tickWidth": 1.5, "labelFont": "Liberation Sans", "labelFontSize": 12, "labelColor": "#111", "labelExpr": "'' + datum.value", "labelOverlap": false, "labelFlush": false}}, "x2": {"field": "hi"}, "y": {"field": "r", "type": "quantitative", "scale": {"domain": [-1.477, 10.247], "reverse": true, "nice": false, "zero": false}, "axis": null}}},
{"data": {"name": "panels"}, "transform": [{"filter": "datum.p == 'E'"}], "mark": {"type": "rule", "color": "#777", "strokeWidth": 1.5}, "encoding": {"x": {"datum": 0, "type": "quantitative"}, "y": {"datum": 2, "type": "quantitative", "axis": null}, "y2": {"datum": 7.6}}},
{"transform": [{"filter": "datum.kind == 'study'"}], "mark": {"type": "point", "shape": "square", "filled": true, "color": "#00c800", "opacity": 1}, "encoding": {"x": {"field": "est", "type": "quantitative"}, "y": {"field": "r", "type": "quantitative", "axis": null}, "size": {"field": "wt", "type": "quantitative", "scale": {"domain": [0, 100], "range": [0, 150]}, "legend": null}}},
{"transform": [{"filter": "datum.kind == 'total'"}, {"fold": ["lo", "est"]}], "mark": {"type": "trail", "color": "#000"}, "encoding": {"x": {"field": "value", "type": "quantitative"}, "y": {"field": "r", "type": "quantitative", "axis": null}, "size": {"field": "key", "type": "ordinal", "scale": {"type": "point", "domain": ["lo", "est"], "range": [0, 16], "padding": 0}, "legend": null}, "order": {"field": "value", "type": "quantitative"}}},
{"transform": [{"filter": "datum.kind == 'total'"}, {"fold": ["hi", "est"]}], "mark": {"type": "trail", "color": "#000"}, "encoding": {"x": {"field": "value", "type": "quantitative"}, "y": {"field": "r", "type": "quantitative", "axis": null}, "size": {"field": "key", "type": "ordinal", "scale": {"type": "point", "domain": ["hi", "est"], "range": [0, 16], "padding": 0}, "legend": null}, "order": {"field": "value", "type": "quantitative"}}},
{"data": {"name": "headers"}, "transform": [{"filter": "datum.col == 'plot'"}], "mark": {"type": "text", "align": "center", "fontWeight": "bold"}, "encoding": {"x": {"datum": 0, "type": "quantitative"}, "y": {"field": "r", "type": "quantitative", "axis": null}, "text": {"field": "text", "type": "nominal"}}},
{"data": {"name": "favours"}, "mark": {"type": "text", "align": {"expr": "datum.side == 'turmeric' ? 'right' : 'left'"}, "dx": {"expr": "datum.side == 'turmeric' ? -18 : 18"}}, "encoding": {"x": {"datum": 0, "type": "quantitative"}, "y": {"datum": 8.92, "type": "quantitative", "axis": null}, "text": {"field": "text", "type": "nominal"}}}
]}
]
},
{
"width": 865, "height": 190,
"data": {"name": "rows"},
"transform": [{"filter": "datum.p == 'F'"}],
"resolve": {"scale": {"x": "independent"}, "axis": {"x": "independent"}},
"layer": [
{"layer": [
{"data": {"name": "panels"}, "transform": [{"filter": "datum.p == 'F'"}], "mark": {"type": "text", "align": "left", "fontSize": 21, "fontWeight": "bold", "color": "#000"}, "encoding": {"x": {"datum": "study", "type": "nominal", "bandPosition": 0.23, "scale": {"type": "band", "domain": ["study","s1","s2","mt","sdt","nt","mc","sdc","nc","w","ci1","ci2","ci3","f1","f2","f3","f4"], "range": [-9, 875], "paddingInner": 0, "paddingOuter": 0}, "axis": null}, "y": {"datum": 0.3, "type": "quantitative", "scale": {"domain": [-1.477, 9.443], "reverse": true, "nice": false, "zero": false}, "axis": null}, "text": {"field": "p", "type": "nominal"}}},
{"data": {"name": "headers"}, "transform": [{"filter": "indexof(['mt','sdt','nt','mc','sdc','nc','w'], datum.col) >= 0"}], "mark": {"type": "text", "align": "center", "fontWeight": "bold"}, "encoding": {"x": {"field": "col", "type": "nominal", "bandPosition": 0.5, "axis": null}, "y": {"field": "r", "type": "quantitative", "axis": null}, "text": {"field": "text", "type": "nominal"}}},
{"data": {"name": "headers"}, "transform": [{"filter": "datum.col == 'ci'"}], "mark": {"type": "text", "align": "center", "fontWeight": "bold"}, "encoding": {"x": {"datum": "ci2", "type": "nominal", "bandPosition": 0.27, "axis": null}, "y": {"field": "r", "type": "quantitative", "axis": null}, "text": {"field": "text", "type": "nominal"}}},
{"data": {"name": "headers"}, "transform": [{"filter": "datum.col == 'study'"}], "mark": {"type": "text", "align": "left", "fontWeight": "bold"}, "encoding": {"x": {"datum": "study", "type": "nominal", "bandPosition": 0.731, "axis": null}, "y": {"field": "r", "type": "quantitative", "axis": null}, "text": {"field": "text", "type": "nominal"}}},
{"mark": {"type": "text", "align": "left", "fontWeight": {"expr": "datum.kind == 'total' ? 'bold' : 'normal'"}}, "encoding": {"x": {"datum": "study", "type": "nominal", "bandPosition": 0.731, "axis": null}, "y": {"field": "r", "type": "quantitative", "axis": null}, "text": {"field": "label", "type": "nominal"}}},
{"transform": [{"filter": "datum.kind != 'note'"}, {"fold": ["mt","sdt","nt","mc","sdc","nc","w"]}, {"filter": "datum.value != null"}], "mark": {"type": "text", "align": "right", "fontWeight": {"expr": "datum.kind == 'total' ? 'bold' : 'normal'"}}, "encoding": {"x": {"field": "key", "type": "nominal", "bandPosition": 1, "axis": null}, "y": {"field": "r", "type": "quantitative", "axis": null}, "text": {"field": "value", "type": "nominal"}}},
{"transform": [{"filter": "datum.kind != 'note'"}], "mark": {"type": "text", "align": "right", "fontWeight": {"expr": "datum.kind == 'total' ? 'bold' : 'normal'"}}, "encoding": {"x": {"datum": "ci3", "type": "nominal", "bandPosition": 0.52, "axis": null}, "y": {"field": "r", "type": "quantitative", "axis": null}, "text": {"field": "ci", "type": "nominal"}}},
{"data": {"name": "panels"}, "transform": [{"filter": "datum.p == 'F'"}], "mark": {"type": "rule", "color": "#8c8c8c", "strokeWidth": 2}, "encoding": {"x": {"datum": "study", "type": "nominal", "bandPosition": 0.731, "axis": null}, "x2": {"datum": "f4", "bandPosition": 0.71}, "y": {"datum": 2, "type": "quantitative", "axis": null}}}
]},
{"resolve": {"scale": {"size": "independent"}}, "layer": [
{"transform": [{"filter": "datum.kind == 'study'"}], "mark": {"type": "rule", "color": "#6e6e6e", "strokeWidth": 1.7}, "encoding": {"x": {"field": "lo", "type": "quantitative", "scale": {"domain": [-5, 5], "range": [659, 842], "nice": false, "zero": false}, "axis": {"values": [-4, -2, 0, 2, 4], "title": null, "offset": -29.97, "grid": false, "tickSize": 4, "labelPadding": 1, "domainColor": "#6e6e6e", "domainWidth": 1.5, "tickColor": "#6e6e6e", "tickWidth": 1.5, "labelFont": "Liberation Sans", "labelFontSize": 12, "labelColor": "#111", "labelExpr": "'' + datum.value", "labelOverlap": false, "labelFlush": false}}, "x2": {"field": "hi"}, "y": {"field": "r", "type": "quantitative", "scale": {"domain": [-1.477, 9.443], "reverse": true, "nice": false, "zero": false}, "axis": null}}},
{"data": {"name": "panels"}, "transform": [{"filter": "datum.p == 'F'"}], "mark": {"type": "rule", "color": "#777", "strokeWidth": 1.5}, "encoding": {"x": {"datum": 0, "type": "quantitative"}, "y": {"datum": 2, "type": "quantitative", "axis": null}, "y2": {"datum": 7.72}}},
{"transform": [{"filter": "datum.kind == 'study'"}], "mark": {"type": "point", "shape": "square", "filled": true, "color": "#00c800", "opacity": 1}, "encoding": {"x": {"field": "est", "type": "quantitative"}, "y": {"field": "r", "type": "quantitative", "axis": null}, "size": {"field": "wt", "type": "quantitative", "scale": {"domain": [0, 100], "range": [0, 150]}, "legend": null}}},
{"transform": [{"filter": "datum.kind == 'total'"}, {"fold": ["lo", "est"]}], "mark": {"type": "trail", "color": "#000"}, "encoding": {"x": {"field": "value", "type": "quantitative"}, "y": {"field": "r", "type": "quantitative", "axis": null}, "size": {"field": "key", "type": "ordinal", "scale": {"type": "point", "domain": ["lo", "est"], "range": [0, 16], "padding": 0}, "legend": null}, "order": {"field": "value", "type": "quantitative"}}},
{"transform": [{"filter": "datum.kind == 'total'"}, {"fold": ["hi", "est"]}], "mark": {"type": "trail", "color": "#000"}, "encoding": {"x": {"field": "value", "type": "quantitative"}, "y": {"field": "r", "type": "quantitative", "axis": null}, "size": {"field": "key", "type": "ordinal", "scale": {"type": "point", "domain": ["hi", "est"], "range": [0, 16], "padding": 0}, "legend": null}, "order": {"field": "value", "type": "quantitative"}}},
{"data": {"name": "headers"}, "transform": [{"filter": "datum.col == 'plot'"}], "mark": {"type": "text", "align": "center", "fontWeight": "bold"}, "encoding": {"x": {"datum": 0, "type": "quantitative"}, "y": {"field": "r", "type": "quantitative", "axis": null}, "text": {"field": "text", "type": "nominal"}}},
{"data": {"name": "favours"}, "mark": {"type": "text", "align": {"expr": "datum.side == 'turmeric' ? 'right' : 'left'"}, "dx": {"expr": "datum.side == 'turmeric' ? -18 : 18"}}, "encoding": {"x": {"datum": 0, "type": "quantitative"}, "y": {"datum": 9.04, "type": "quantitative", "axis": null}, "text": {"field": "text", "type": "nominal"}}}
]}
]
}
]
}
